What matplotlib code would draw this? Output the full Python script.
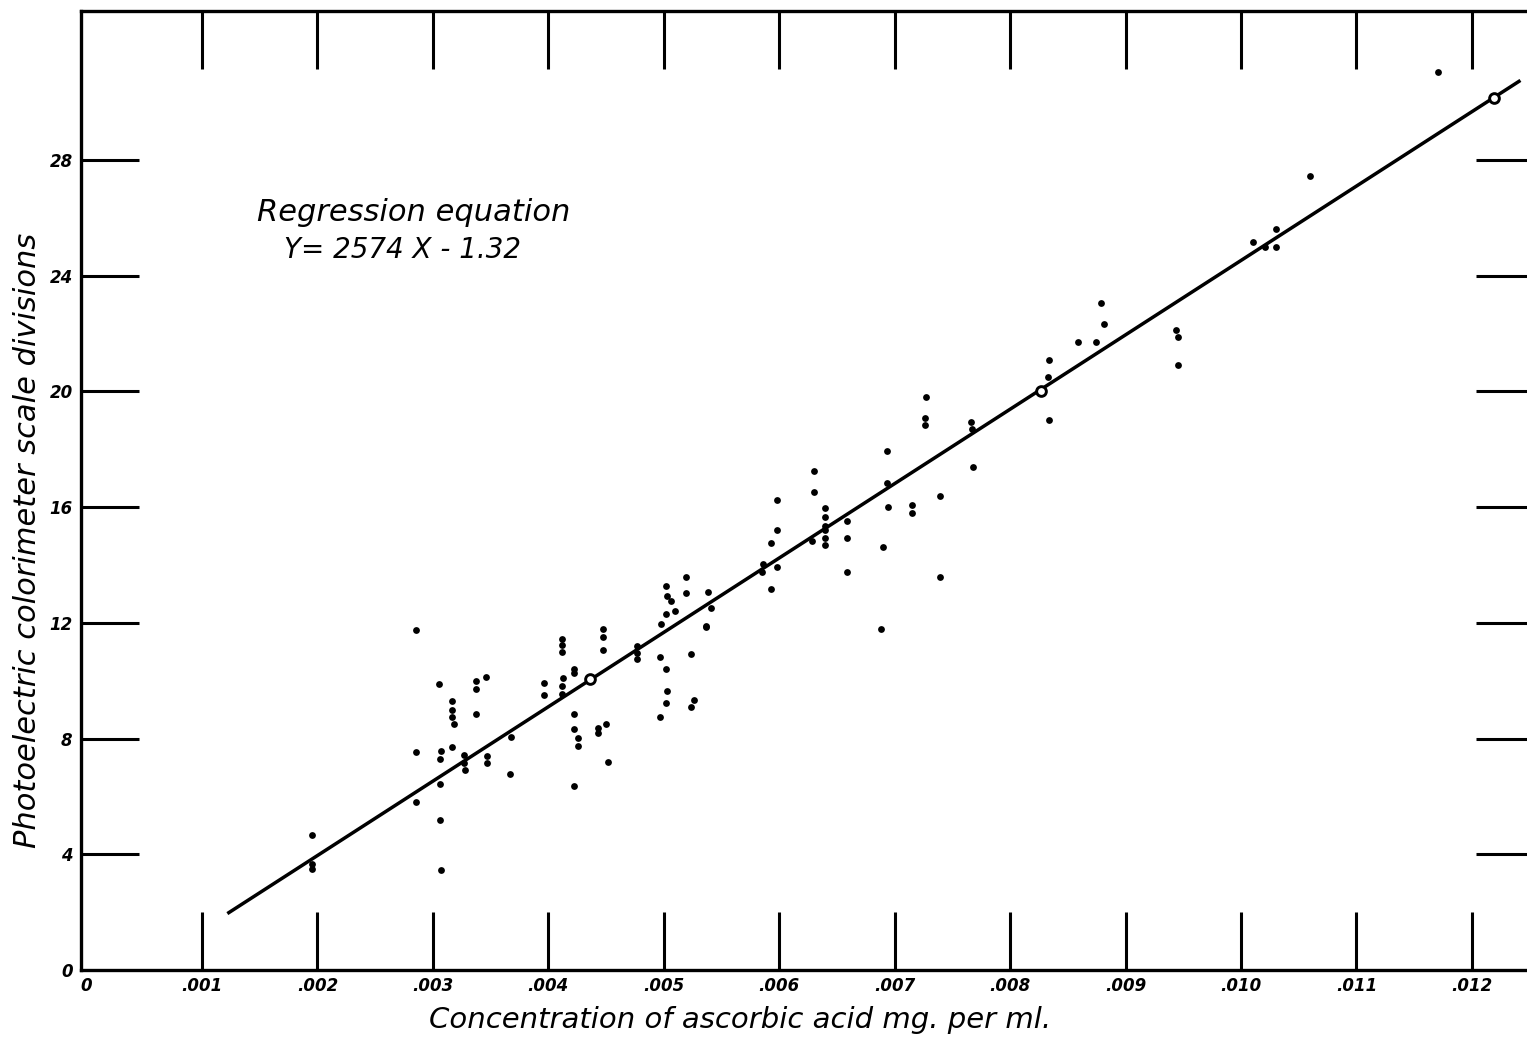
import matplotlib
matplotlib.use('Agg')
import matplotlib.pyplot as plt

# individual determinations (mg ascorbic acid per ml, scale divisions)
conc = [0.00195, 0.00195, 0.00195,
        0.00285, 0.00285, 0.00285,
        0.00305, 0.00307, 0.00306, 0.00306, 0.00306, 0.00307,
        0.00317, 0.00317, 0.00317, 0.00318, 0.00317,
        0.00327, 0.00327, 0.00328,
        0.00337, 0.00337, 0.00337,
        0.00346, 0.00347, 0.00347,
        0.00368, 0.00367,
        0.00396, 0.00396,
        0.00412, 0.00412, 0.00412, 0.00413, 0.00412, 0.00412,
        0.00422, 0.00422, 0.00422, 0.00422, 0.00426, 0.00426, 0.00422,
        0.00443, 0.00443,
        0.00447, 0.00447, 0.00447, 0.00450, 0.00452,
        0.00477, 0.00477, 0.00477,
        0.00497, 0.00498, 0.00497,
        0.00502, 0.00503, 0.00506, 0.00510, 0.00502, 0.00502, 0.00503, 0.00502,
        0.00519, 0.00519, 0.00524, 0.00526, 0.00524,
        0.00538, 0.00541, 0.00537, 0.00537,
        0.00585, 0.00586, 0.00593, 0.00598, 0.00598, 0.00598, 0.00593,
        0.00630, 0.00630, 0.00628,
        0.00640, 0.00640, 0.00640, 0.00640, 0.00640, 0.00640,
        0.00659, 0.00659, 0.00659,
        0.00693, 0.00693, 0.00694, 0.00690, 0.00688,
        0.00715, 0.00715,
        0.00727, 0.00726, 0.00726,
        0.00739, 0.00739,
        0.00766, 0.00767, 0.00768,
        0.00833, 0.00834, 0.00834,
        0.00859, 0.00874, 0.00881, 0.00879,
        0.00944, 0.00945, 0.00945,
        0.01010, 0.01021, 0.01030, 0.01030,
        0.01060, 0.01171]
reading = [4.67, 3.65, 3.50,
           11.74, 7.52, 5.81,
           9.89, 7.58, 7.30, 6.42, 5.18, 3.45,
           9.29, 9.00, 8.76, 8.50, 7.70,
           7.42, 7.17, 6.91,
           9.99, 9.72, 8.85,
           10.14, 7.41, 7.14,
           8.05, 6.79,
           9.92, 9.52,
           11.43, 11.23, 11.00, 10.08, 9.82, 9.55,
           10.40, 10.25, 8.84, 8.32, 8.01, 7.73, 6.35,
           8.38, 8.18,
           11.80, 11.51, 11.05, 8.50, 7.19,
           11.20, 10.95, 10.76,
           10.83, 11.97, 8.76,
           13.27, 12.93, 12.74, 12.42, 12.32, 10.42, 9.64, 9.23,
           13.60, 13.04, 10.92, 9.34, 9.10,
           13.06, 12.50, 11.90, 11.84,
           13.77, 14.03, 14.75, 15.20, 16.26, 13.93, 13.18,
           17.26, 16.51, 14.84,
           15.96, 15.65, 15.35, 15.21, 14.92, 14.69,
           15.53, 14.92, 13.75,
           17.94, 16.84, 16.00, 14.61, 11.79,
           16.06, 15.81,
           19.82, 19.09, 18.84,
           16.39, 13.60,
           18.95, 18.69, 17.40,
           20.51, 21.09, 19.01,
           21.72, 21.72, 22.33, 23.04,
           22.13, 21.87, 20.91,
           25.16, 25.00, 25.62, 25.00,
           27.45, 31.05]

# points used to draw the regression line (open circles)
circ_x = [0.00436, 0.00827, 0.01219]
circ_y = [10.05, 20.0, 30.15]

# regression line ends
line_x = [0.00122, 0.01242]
line_y = [1.95, 30.75]

xticks = [0, 0.001, 0.002, 0.003, 0.004, 0.005, 0.006, 0.007, 0.008, 0.009, 0.010, 0.011, 0.012]
xtick_labels = ['0', '.001', '.002', '.003', '.004', '.005', '.006', '.007', '.008', '.009', '.010', '.011', '.012']
yticks = [0, 4, 8, 12, 16, 20, 24, 28]

plt.rcParams['font.family'] = ['DejaVu Sans']

fig = plt.figure(figsize=(15.27, 10.39), dpi=100)
ax = fig.add_axes([81 / 1527, 69 / 1039, 1446 / 1527, 959 / 1039])

ax.plot(line_x, line_y, color='black', lw=2.5, solid_capstyle='butt', zorder=2)
ax.scatter(conc, reading, s=24, color='black', zorder=3, linewidths=0)
ax.plot(circ_x, circ_y, 'o', ms=7, mfc='white', mec='black', mew=2.1, zorder=4)

ax.set_xlim(-0.0000476, 0.012477)
ax.set_ylim(0, 33.15)

ax.set_xticks(xticks)
ax.set_xticklabels(xtick_labels)
ax.set_yticks(yticks)

ax.tick_params(axis='both', direction='in', length=42, width=2.2, color='black',
               top=True, right=True, labelsize=12, pad=6)
ax.tick_params(axis='x', pad=5)
# right-hand ticks are a bit shorter
for t in ax.yaxis.get_major_ticks():
    t.tick2line.set_markersize(37)
# no tick marks at the origin, only the "0" labels
for t in (ax.xaxis.get_major_ticks()[0], ax.yaxis.get_major_ticks()[0]):
    t.tick1line.set_visible(False)
    t.tick2line.set_visible(False)

for lab in ax.get_xticklabels() + ax.get_yticklabels():
    lab.set_fontstyle('oblique')
    lab.set_fontweight('bold')

for side in ['left', 'top', 'bottom']:
    ax.spines[side].set_linewidth(2.4)
ax.spines['right'].set_visible(False)

ax.set_xlabel('Concentration of ascorbic acid mg. per ml.', fontsize=21, style='oblique', va='center')
ax.xaxis.set_label_coords(0.456, -0.052)
ax.set_ylabel('Photoelectric colorimeter scale divisions', fontsize=22, style='oblique', va='center')
ax.yaxis.set_label_coords(-0.037, 0.448)

ax.text(0.2303, 0.790, 'Regression equation', transform=ax.transAxes,
        ha='center', va='center', fontsize=22, style='oblique')
ax.text(0.222, 0.751, 'Y= 2574 X - 1.32', transform=ax.transAxes,
        ha='center', va='center', fontsize=20, style='oblique')

plt.savefig('out.png', dpi=100)
